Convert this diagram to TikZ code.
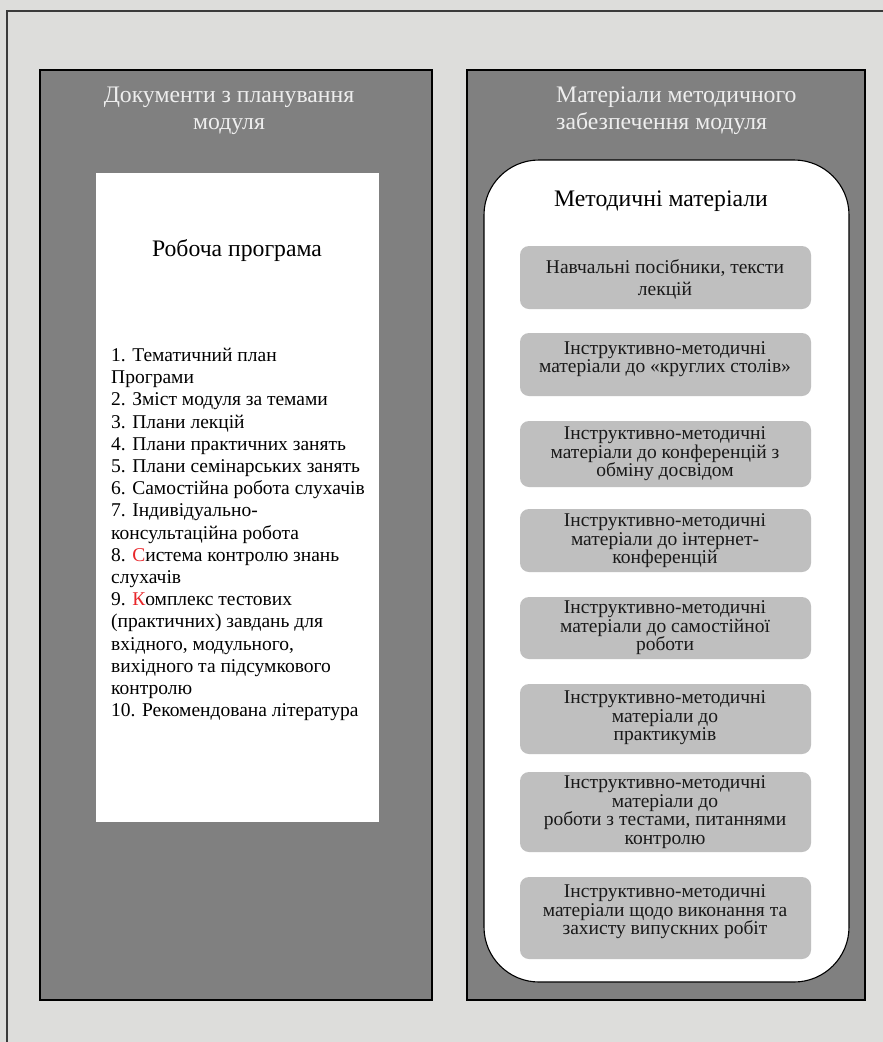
\documentclass[tikz,border=0pt]{standalone}
\usepackage{fontspec}
\setmainfont{Liberation Serif}
\definecolor{bg}{HTML}{DDDDDB}
\definecolor{panel}{HTML}{808080}
\definecolor{itembox}{HTML}{BFBFBF}
\definecolor{titletext}{HTML}{EEEEEE}
\definecolor{redletter}{HTML}{E8262A}
\definecolor{frameline}{HTML}{3A3A3A}
\newcommand{\tightlines}[1]{\fontsize{19.5}{#1}\selectfont\lineskiplimit=-100pt\lineskip=0pt}
\begin{document}
\begin{tikzpicture}[x=1pt,y=-1pt,
  panelbox/.style={draw=black, line width=1.4pt, fill=panel, inner sep=0pt, outer sep=0pt, anchor=north west},
  whitebox/.style={fill=white, inner sep=0pt, outer sep=0pt, anchor=north west},
  methbox/.style={draw=black, line width=1.1pt, fill=white, rounded corners=55pt, inner sep=0pt, outer sep=0pt, anchor=north west},
  itemrect/.style={fill=itembox, rounded corners=9pt, inner sep=0pt, outer sep=0pt, anchor=north west, minimum width=291pt},
  titlestyle/.style={text=titletext, font=\fontsize{23.7}{27}\selectfont, inner sep=0pt, align=center},
  itemtext/.style={text=black!90, inner sep=0pt, align=center}
]
\useasboundingbox (0,0) rectangle (883,1042);
\fill[bg] (0,0) rectangle (883,1042);
\draw[line width=1.4pt, draw=frameline] (7,1045) -- (7,11) -- (886,11);

% panels
\node[panelbox, minimum width=392pt, minimum height=930pt] (leftpanel) at (40,70) {};
\node[panelbox, minimum width=398pt, minimum height=930pt] (rightpanel) at (467,70) {};

% titles
\node[titlestyle] (lefttitle) at (229,111) {Документи з планування\\модуля};
\node[titlestyle, align=left, anchor=west] (righttitle) at (556,111) {Матеріали методичного\\забезпечення модуля};

% left white sheet
\node[whitebox, minimum width=283pt, minimum height=649pt] (sheet) at (96,173) {};
\node[inner sep=0pt, font=\fontsize{23.7}{27}\selectfont] (sheettitle) at (237,251) {Робоча програма};
\node[inner sep=0pt, align=left, anchor=north west, font=\fontsize{19.5}{22.2}\selectfont] (sheetlist) at (111,348) {%
1. Тематичний план\\
Програми\\
2. Зміст модуля за темами\\
3. Плани лекцій\\
4. Плани практичних занять\\
5. Плани семінарських занять\\
6. Самостійна робота слухачів\\
7. Індивідуально-\\
консультаційна робота\\
8. \textcolor{redletter}{С}истема контролю знань\\
слухачів\\
9. \textcolor{redletter}{К}омплекс тестових\\
(практичних) завдань для\\
вхідного, модульного,\\
вихідного та підсумкового\\
контролю\\
10. Рекомендована література};

% right rounded container
\node[methbox, minimum width=365pt, minimum height=822pt] (meth) at (484,160) {};
\node[inner sep=0pt, font=\fontsize{23.7}{27}\selectfont] (methtitle) at (661,201) {Методичні матеріали};

% item boxes
\node[itemrect, minimum height=63pt] (b1) at (520,246) {};
\node[itemrect, minimum height=63pt] (b2) at (520,333) {};
\node[itemrect, minimum height=66pt] (b3) at (520,421) {};
\node[itemrect, minimum height=63pt] (b4) at (520,509) {};
\node[itemrect, minimum height=62pt] (b5) at (520,597) {};
\node[itemrect, minimum height=70pt] (b6) at (520,684) {};
\node[itemrect, minimum height=80pt] (b7) at (520,772) {};
\node[itemrect, minimum height=82pt] (b8) at (520,877) {};

\node[itemtext, font=\tightlines{22}] (t1) at (665,279) {Навчальні посібники, тексти\\лекцій};
\node[itemtext, font=\tightlines{18.5}] (t2) at (665,359) {Інструктивно-методичні\\матеріали до «круглих столів»};
\node[itemtext, font=\tightlines{18.5}] (t3) at (665,454) {Інструктивно-методичні\\матеріали до конференцій з\\обміну досвідом};
\node[itemtext, font=\tightlines{18.5}] (t4) at (665,541) {Інструктивно-методичні\\матеріали до інтернет-\\конференцій};
\node[itemtext, font=\tightlines{18.5}] (t5) at (665,628) {Інструктивно-методичні\\матеріали до самостійної\\роботи};
\node[itemtext, font=\tightlines{18.5}] (t6) at (665,718) {Інструктивно-методичні\\матеріали до\\практикумів};
\node[itemtext, font=\tightlines{18.5}] (t7) at (665,812) {Інструктивно-методичні\\матеріали до\\роботи з тестами, питаннями\\контролю};
\node[itemtext, font=\tightlines{18.5}] (t8) at (665,912) {Інструктивно-методичні\\матеріали щодо виконання та\\захисту випускних робіт};
\end{tikzpicture}
\end{document}
